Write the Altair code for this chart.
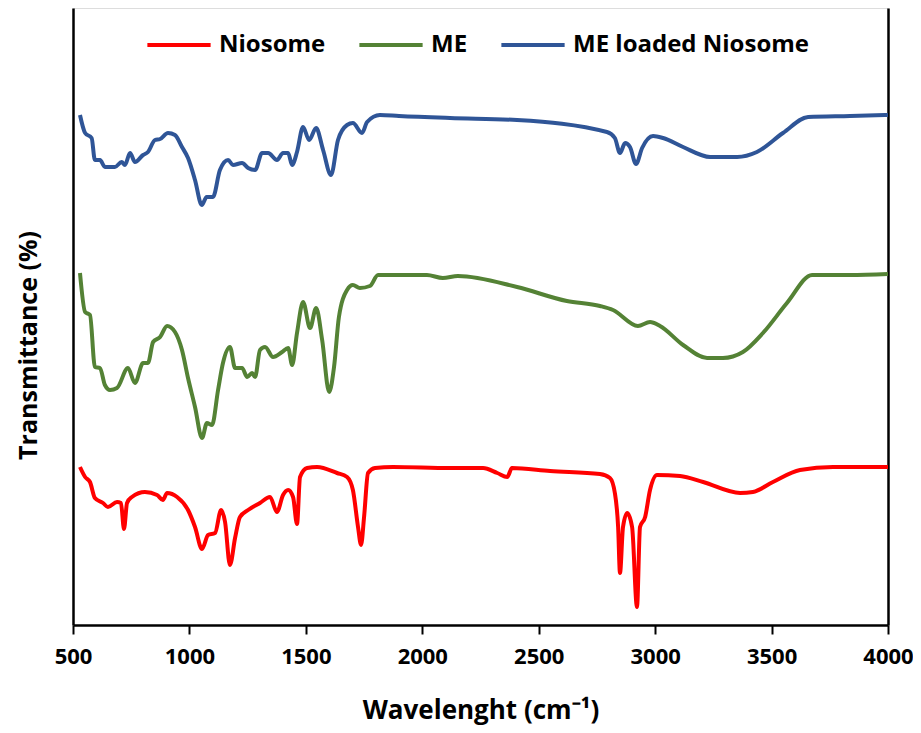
import altair as alt
import pandas as pd

# Wavenumber (cm-1) and transmittance (arbitrary units)
niosome_wn = [530, 552, 573, 594, 629, 650, 689, 706, 719, 732, 753, 809, 861, 886, 904, 947, 994, 1024,
              1054, 1080, 1110, 1136, 1153, 1174, 1196, 1217, 1252, 1303, 1346, 1376, 1402, 1424, 1445,
              1462, 1475, 1505, 1548, 1634, 1677, 1702, 1724, 1737, 1750, 1767, 1797, 1874, 2119, 2261,
              2322, 2365, 2385, 2549, 2763, 2806, 2827, 2841, 2849, 2862, 2880, 2901, 2922, 2935, 2957,
              2978, 3008, 3107, 3206, 3365, 3420, 3506, 3622, 3764, 4000]
niosome_px = [467, 477, 482, 498, 503, 507, 502, 503, 529, 503, 497, 492, 495, 500, 493, 497, 510, 527,
              549, 535, 533, 510, 522, 565, 538, 517, 510, 503, 497, 512, 495, 490, 497,
              524, 477, 468, 467, 473, 477, 490, 527, 545, 517, 473, 468, 467, 468, 468,
              473, 477, 468, 471, 474, 478, 493, 527, 573, 527, 513, 527, 607, 527, 517,
              490, 475, 476, 482, 493, 492, 482, 470, 467, 467]

me_wn = [530, 552, 573, 594, 616, 637, 659, 689, 736, 766, 801, 822, 844, 874, 904, 938, 968, 994, 1024,
         1054, 1075, 1097, 1123, 1144, 1174, 1196, 1226, 1248, 1269, 1282, 1303, 1325, 1359, 1398, 1424,
         1441, 1462, 1488, 1518, 1544, 1570, 1600, 1621, 1642, 1677, 1702, 1732, 1775, 1810, 1874, 2020,
         2088, 2153, 2407, 2621, 2763, 2819, 2926, 2978, 3021, 3120, 3223, 3291, 3377, 3463, 3566, 3674,
         3837, 4000]
me_px = [273, 312, 315, 367, 368, 385, 390, 388, 368, 383, 363, 363, 342, 337, 326, 332, 350, 378, 407,
         438, 423, 425, 390, 363, 347, 368, 368, 377, 373, 377, 350, 347, 357, 352, 348,
         365, 333, 302, 328, 308, 340, 392, 367, 317, 290, 285, 288, 286, 275, 275, 275,
         278, 276, 287, 301, 306, 310, 326, 322, 326, 345, 358, 358, 352, 333, 303, 275,
         275, 274]

loaded_wn = [530, 552, 580, 594, 616, 637, 680, 709, 723, 745, 766, 801, 822, 852, 874, 908, 938, 968,
             994, 1024, 1053, 1074, 1101, 1131, 1166, 1187, 1226, 1252, 1282, 1312, 1338, 1376, 1402,
             1424, 1441, 1462, 1488, 1514, 1544, 1574, 1608, 1638, 1677, 1702, 1741, 1763, 1818, 1900,
             2119, 2407, 2793, 2827, 2849, 2871, 2892, 2918, 2944, 2991, 3034, 3120, 3236, 3352, 3437,
             3549, 3657, 3837, 4000]
loaded_px = [115, 133, 138, 160, 160, 167, 167, 162, 165, 153, 162, 155, 152, 140, 139, 133, 135, 147,
             158, 180, 205, 197, 197, 170, 160, 165, 163, 168, 170, 153, 153, 160, 153,
             153, 165, 152, 127, 140, 128, 150, 175, 140, 125, 123, 133, 122, 115, 116,
             118, 120, 132, 138, 153, 143, 147, 164, 148, 136, 138, 147, 157, 157, 152,
             133, 117, 116, 115]

series_names = ["Niosome", "ME", "ME loaded Niosome"]
series_colors = ["#FF0000", "#548235", "#2F5597"]
x_ticks = [500, 1000, 1500, 2000, 2500, 3000, 3500, 4000]

rows = []
for name, wn, px in [("Niosome", niosome_wn, niosome_px),
                     ("ME", me_wn, me_px),
                     ("ME loaded Niosome", loaded_wn, loaded_px)]:
    for w, p in zip(wn, px):
        rows.append({"series": name, "wn": w, "T": 625 - p})
df = pd.DataFrame(rows)

FONT = "Open Sans"

x_enc = alt.X("wn:Q", scale=alt.Scale(domain=[500, 4000], nice=False, zero=False),
              axis=alt.Axis(values=x_ticks, format="d", title="Wavelenght (cm⁻¹)", grid=False,
                            domainColor="black", domainWidth=2.5, tickColor="black",
                            tickWidth=2, tickSize=9, labelFont=FONT, labelFontSize=22,
                            labelFontWeight="bold", labelColor="black", labelPadding=12,
                            titleFont=FONT, titleFontSize=26, titleFontWeight="bold",
                            titleColor="black", titlePadding=30, labelFlush=False))
y_scale = alt.Scale(domain=[0, 617], nice=False, zero=False)
color_enc = alt.Color("series:N", scale=alt.Scale(domain=series_names, range=series_colors),
                      legend=alt.Legend(title=None, orient="none", direction="horizontal",
                                        legendX=72, legendY=3, symbolType="stroke",
                                        symbolStrokeWidth=4, symbolSize=4000,
                                        labelFont=FONT, labelFontSize=24, labelFontWeight="bold",
                                        labelColor="black", labelOffset=6, columnPadding=25,
                                        labelLimit=400))

lines = alt.Chart(df).mark_line(strokeWidth=4, interpolate="monotone").encode(
    x=x_enc,
    y=alt.Y("T:Q", scale=y_scale,
            axis=alt.Axis(title="Transmittance (%)", labels=False, ticks=False, grid=False,
                          domainColor="black", domainWidth=2.5, titleFont=FONT, titleFontSize=25,
                          titleFontWeight="bold", titleColor="black", titleAngle=270,
                          titleX=-45, titleY=337, titleAlign="center", titleBaseline="middle")),
    color=color_enc,
    order="wn:Q",
)

right = alt.Chart(df).mark_line(opacity=0).encode(
    x=alt.X("wn:Q", scale=alt.Scale(domain=[500, 4000], nice=False, zero=False)),
    y=alt.Y("T:Q", scale=y_scale,
            axis=alt.Axis(orient="right", title=None, labels=False, ticks=False, grid=False,
                          domainColor="black", domainWidth=2.5)),
    detail="series:N",
)

chart = alt.layer(lines, right).resolve_axis(y="independent").properties(
    width=815, height=617,
    autosize=alt.AutoSizeParams(type="none"),
    padding={"left": 65, "top": 0, "right": 25, "bottom": 100},
).configure_view(stroke=None).configure(background="white")

chart.save("out.html", embed_options={"renderer": "svg", "actions": False})
